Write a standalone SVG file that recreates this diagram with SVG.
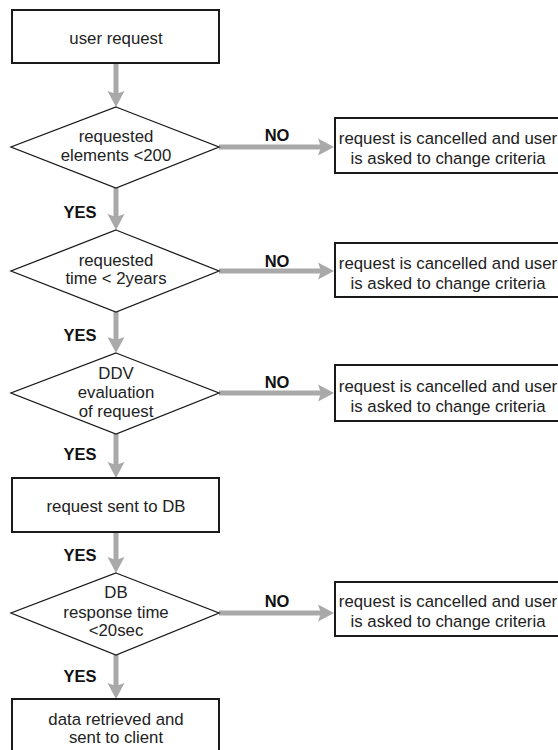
<svg xmlns="http://www.w3.org/2000/svg" width="558" height="750" viewBox="0 0 558 750">
<defs>
<style>
.box{fill:#fff;stroke:#1a1a1a;stroke-width:2}
.dia{fill:#fff;stroke:#1a1a1a;stroke-width:1.3}
.t{font-family:"Liberation Sans",Arial,sans-serif;font-size:16.8px;fill:#222;text-anchor:middle}
.lb{font-family:"Liberation Sans",Arial,sans-serif;font-size:16.5px;font-weight:bold;fill:#111;text-anchor:middle}
.ar{stroke:#a9a9a9;stroke-width:5;fill:none;marker-end:url(#ah)}
</style>
<marker id="ah" markerUnits="userSpaceOnUse" viewBox="0 -10 18 20" markerWidth="18" markerHeight="20" refX="4" refY="0" orient="auto">
<path d="M0,-8.5 L16,0 L0,8.5 L3,0 Z" fill="#a9a9a9"/>
</marker>
</defs>
<rect width="558" height="750" fill="#fff"/>
<g id="connectors">
<line class="ar" x1="116" y1="63" x2="116" y2="95"/>
<line class="ar" x1="116" y1="188" x2="116" y2="218"/>
<line class="ar" x1="116" y1="312" x2="116" y2="341"/>
<line class="ar" x1="116" y1="434" x2="116" y2="466"/>
<line class="ar" x1="116" y1="533" x2="116" y2="561"/>
<line class="ar" x1="116" y1="655" x2="116" y2="687"/>
<line class="ar" x1="219" y1="147" x2="322" y2="147"/>
<line class="ar" x1="219" y1="271" x2="322" y2="271"/>
<line class="ar" x1="219" y1="393" x2="322" y2="393"/>
<line class="ar" x1="219" y1="613" x2="322" y2="613"/>
<text class="lb" x="80" y="218">YES</text>
<text class="lb" x="80" y="341">YES</text>
<text class="lb" x="80" y="460">YES</text>
<text class="lb" x="80" y="561">YES</text>
<text class="lb" x="80" y="682">YES</text>
<text class="lb" x="277" y="141">NO</text>
<text class="lb" x="277" y="267">NO</text>
<text class="lb" x="277" y="388">NO</text>
<text class="lb" x="277" y="607">NO</text>
</g>
<g id="n1"><rect class="box" x="12" y="10" width="207" height="53"/><text class="t" x="116" y="44">user request</text></g>
<g id="d1"><polygon class="dia" points="116,107 219,147 116,188 11,147"/><text class="t" x="116" y="142">requested</text><text class="t" x="116" y="161">elements &lt;200</text></g>
<g id="d2"><polygon class="dia" points="116,230 219,271 116,312 11,271"/><text class="t" x="116" y="266">requested</text><text class="t" x="116" y="284">time &lt; 2years</text></g>
<g id="d3"><polygon class="dia" points="116,353 219,393 116,434 11,393"/><text class="t" x="116" y="379">DDV</text><text class="t" x="116" y="398">evaluation</text><text class="t" x="116" y="417">of request</text></g>
<g id="n2"><rect class="box" x="12" y="478" width="207" height="54"/><text class="t" x="116" y="512">request sent to DB</text></g>
<g id="d4"><polygon class="dia" points="116,573 219,613 116,655 11,613"/><text class="t" x="116" y="598">DB</text><text class="t" x="116" y="618">response time</text><text class="t" x="116" y="636">&lt;20sec</text></g>
<g id="n3"><rect class="box" x="12" y="699" width="207" height="60"/><text class="t" x="116" y="725">data retrieved and</text><text class="t" x="116" y="743">sent to client</text></g>
<g id="r1"><rect class="box" x="335" y="118" width="230" height="55"/><text class="t" x="448" y="144">request is cancelled and user</text><text class="t" x="448" y="164">is asked to change criteria</text></g>
<g id="r2"><rect class="box" x="335" y="243" width="230" height="54"/><text class="t" x="448" y="269">request is cancelled and user</text><text class="t" x="448" y="289">is asked to change criteria</text></g>
<g id="r3"><rect class="box" x="335" y="365" width="230" height="56"/><text class="t" x="448" y="392">request is cancelled and user</text><text class="t" x="448" y="412">is asked to change criteria</text></g>
<g id="r4"><rect class="box" x="335" y="582" width="230" height="54"/><text class="t" x="448" y="607">request is cancelled and user</text><text class="t" x="448" y="627">is asked to change criteria</text></g>
</svg>
